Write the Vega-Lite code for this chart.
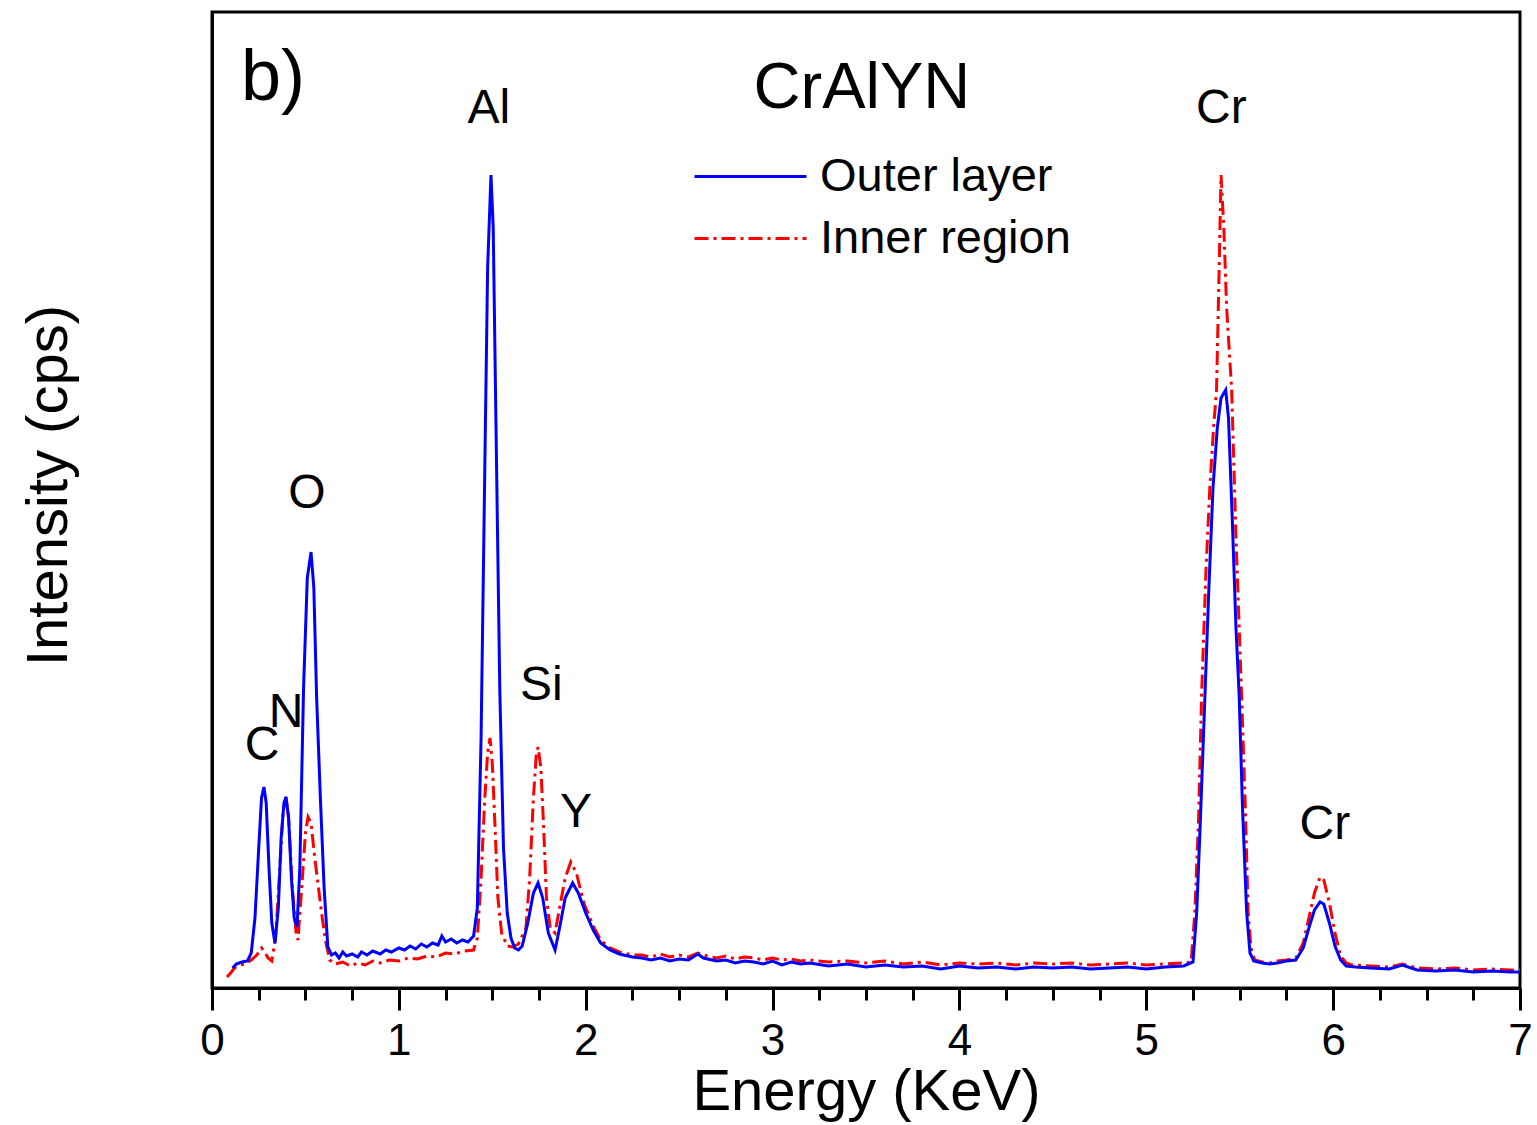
{
  "$schema": "https://vega.github.io/schema/vega-lite/v6.json",
  "width": 1308,
  "height": 976,
  "autosize": {"type": "none"},
  "padding": {"left": 212, "top": 12, "right": 17, "bottom": 137},
  "background": "white",
  "config": {
    "view": {"stroke": "black", "strokeWidth": 3},
    "font": "Liberation Sans",
    "axis": {"grid": false}
  },
  "datasets": {
    "spectra": [
      {"series": "Inner region", "energy": 0.08, "intensity": 11},
      {"series": "Inner region", "energy": 0.10, "intensity": 15},
      {"series": "Inner region", "energy": 0.12, "intensity": 20},
      {"series": "Inner region", "energy": 0.15, "intensity": 23},
      {"series": "Inner region", "energy": 0.18, "intensity": 24},
      {"series": "Inner region", "energy": 0.21, "intensity": 28},
      {"series": "Inner region", "energy": 0.24, "intensity": 33},
      {"series": "Inner region", "energy": 0.265, "intensity": 40},
      {"series": "Inner region", "energy": 0.28, "intensity": 37},
      {"series": "Inner region", "energy": 0.30, "intensity": 30},
      {"series": "Inner region", "energy": 0.32, "intensity": 27},
      {"series": "Inner region", "energy": 0.34, "intensity": 50},
      {"series": "Inner region", "energy": 0.36, "intensity": 110},
      {"series": "Inner region", "energy": 0.38, "intensity": 175},
      {"series": "Inner region", "energy": 0.396, "intensity": 191},
      {"series": "Inner region", "energy": 0.41, "intensity": 170},
      {"series": "Inner region", "energy": 0.43, "intensity": 100},
      {"series": "Inner region", "energy": 0.45, "intensity": 55},
      {"series": "Inner region", "energy": 0.46, "intensity": 48},
      {"series": "Inner region", "energy": 0.48, "intensity": 100},
      {"series": "Inner region", "energy": 0.50, "intensity": 155},
      {"series": "Inner region", "energy": 0.514, "intensity": 171},
      {"series": "Inner region", "energy": 0.53, "intensity": 165},
      {"series": "Inner region", "energy": 0.55, "intensity": 130},
      {"series": "Inner region", "energy": 0.57, "intensity": 100},
      {"series": "Inner region", "energy": 0.59, "intensity": 70},
      {"series": "Inner region", "energy": 0.61, "intensity": 45},
      {"series": "Inner region", "energy": 0.63, "intensity": 28},
      {"series": "Inner region", "energy": 0.66, "intensity": 24},
      {"series": "Inner region", "energy": 0.70, "intensity": 26},
      {"series": "Inner region", "energy": 0.74, "intensity": 22},
      {"series": "Inner region", "energy": 0.78, "intensity": 25},
      {"series": "Inner region", "energy": 0.82, "intensity": 23},
      {"series": "Inner region", "energy": 0.86, "intensity": 27},
      {"series": "Inner region", "energy": 0.90, "intensity": 25},
      {"series": "Inner region", "energy": 0.95, "intensity": 28},
      {"series": "Inner region", "energy": 1.00, "intensity": 27},
      {"series": "Inner region", "energy": 1.05, "intensity": 30},
      {"series": "Inner region", "energy": 1.10, "intensity": 29},
      {"series": "Inner region", "energy": 1.15, "intensity": 32},
      {"series": "Inner region", "energy": 1.20, "intensity": 31},
      {"series": "Inner region", "energy": 1.25, "intensity": 35},
      {"series": "Inner region", "energy": 1.30, "intensity": 34},
      {"series": "Inner region", "energy": 1.35, "intensity": 37},
      {"series": "Inner region", "energy": 1.40, "intensity": 38},
      {"series": "Inner region", "energy": 1.42, "intensity": 50},
      {"series": "Inner region", "energy": 1.44, "intensity": 110},
      {"series": "Inner region", "energy": 1.46, "intensity": 190},
      {"series": "Inner region", "energy": 1.475, "intensity": 235},
      {"series": "Inner region", "energy": 1.488, "intensity": 250},
      {"series": "Inner region", "energy": 1.50, "intensity": 225},
      {"series": "Inner region", "energy": 1.515, "intensity": 160},
      {"series": "Inner region", "energy": 1.53, "intensity": 90},
      {"series": "Inner region", "energy": 1.55, "intensity": 55},
      {"series": "Inner region", "energy": 1.58, "intensity": 42},
      {"series": "Inner region", "energy": 1.61, "intensity": 41},
      {"series": "Inner region", "energy": 1.64, "intensity": 44},
      {"series": "Inner region", "energy": 1.68, "intensity": 60},
      {"series": "Inner region", "energy": 1.70, "intensity": 110},
      {"series": "Inner region", "energy": 1.72, "intensity": 190},
      {"series": "Inner region", "energy": 1.735, "intensity": 232},
      {"series": "Inner region", "energy": 1.745, "intensity": 241},
      {"series": "Inner region", "energy": 1.76, "intensity": 220},
      {"series": "Inner region", "energy": 1.775, "intensity": 160},
      {"series": "Inner region", "energy": 1.79, "intensity": 90},
      {"series": "Inner region", "energy": 1.81, "intensity": 60},
      {"series": "Inner region", "energy": 1.836, "intensity": 55},
      {"series": "Inner region", "energy": 1.86, "intensity": 80},
      {"series": "Inner region", "energy": 1.89, "intensity": 110},
      {"series": "Inner region", "energy": 1.92, "intensity": 126},
      {"series": "Inner region", "energy": 1.95, "intensity": 115},
      {"series": "Inner region", "energy": 1.99, "intensity": 85},
      {"series": "Inner region", "energy": 2.04, "intensity": 62},
      {"series": "Inner region", "energy": 2.08, "intensity": 48},
      {"series": "Inner region", "energy": 2.13, "intensity": 40},
      {"series": "Inner region", "energy": 2.18, "intensity": 36},
      {"series": "Inner region", "energy": 2.25, "intensity": 33},
      {"series": "Inner region", "energy": 2.30, "intensity": 33},
      {"series": "Inner region", "energy": 2.35, "intensity": 31},
      {"series": "Inner region", "energy": 2.40, "intensity": 34},
      {"series": "Inner region", "energy": 2.45, "intensity": 31},
      {"series": "Inner region", "energy": 2.50, "intensity": 33},
      {"series": "Inner region", "energy": 2.55, "intensity": 31},
      {"series": "Inner region", "energy": 2.60, "intensity": 35},
      {"series": "Inner region", "energy": 2.65, "intensity": 32},
      {"series": "Inner region", "energy": 2.70, "intensity": 30},
      {"series": "Inner region", "energy": 2.75, "intensity": 32},
      {"series": "Inner region", "energy": 2.80, "intensity": 29},
      {"series": "Inner region", "energy": 2.85, "intensity": 31},
      {"series": "Inner region", "energy": 2.90, "intensity": 30},
      {"series": "Inner region", "energy": 2.95, "intensity": 28},
      {"series": "Inner region", "energy": 3.00, "intensity": 30},
      {"series": "Inner region", "energy": 3.05, "intensity": 28},
      {"series": "Inner region", "energy": 3.10, "intensity": 29},
      {"series": "Inner region", "energy": 3.15, "intensity": 27},
      {"series": "Inner region", "energy": 3.20, "intensity": 28},
      {"series": "Inner region", "energy": 3.30, "intensity": 26},
      {"series": "Inner region", "energy": 3.40, "intensity": 27},
      {"series": "Inner region", "energy": 3.50, "intensity": 25},
      {"series": "Inner region", "energy": 3.60, "intensity": 27},
      {"series": "Inner region", "energy": 3.70, "intensity": 24},
      {"series": "Inner region", "energy": 3.80, "intensity": 26},
      {"series": "Inner region", "energy": 3.90, "intensity": 23},
      {"series": "Inner region", "energy": 4.00, "intensity": 25},
      {"series": "Inner region", "energy": 4.10, "intensity": 24},
      {"series": "Inner region", "energy": 4.20, "intensity": 25},
      {"series": "Inner region", "energy": 4.30, "intensity": 23},
      {"series": "Inner region", "energy": 4.40, "intensity": 25},
      {"series": "Inner region", "energy": 4.50, "intensity": 24},
      {"series": "Inner region", "energy": 4.60, "intensity": 25},
      {"series": "Inner region", "energy": 4.70, "intensity": 23},
      {"series": "Inner region", "energy": 4.80, "intensity": 24},
      {"series": "Inner region", "energy": 4.90, "intensity": 25},
      {"series": "Inner region", "energy": 5.00, "intensity": 23},
      {"series": "Inner region", "energy": 5.10, "intensity": 24},
      {"series": "Inner region", "energy": 5.20, "intensity": 25},
      {"series": "Inner region", "energy": 5.24, "intensity": 26},
      {"series": "Inner region", "energy": 5.26, "intensity": 76},
      {"series": "Inner region", "energy": 5.28, "intensity": 170},
      {"series": "Inner region", "energy": 5.296, "intensity": 293},
      {"series": "Inner region", "energy": 5.32, "intensity": 420},
      {"series": "Inner region", "energy": 5.34, "intensity": 500},
      {"series": "Inner region", "energy": 5.36, "intensity": 560},
      {"series": "Inner region", "energy": 5.376, "intensity": 598},
      {"series": "Inner region", "energy": 5.39, "intensity": 720},
      {"series": "Inner region", "energy": 5.40, "intensity": 813},
      {"series": "Inner region", "energy": 5.415, "intensity": 760},
      {"series": "Inner region", "energy": 5.43, "intensity": 680},
      {"series": "Inner region", "energy": 5.457, "intensity": 598},
      {"series": "Inner region", "energy": 5.48, "intensity": 450},
      {"series": "Inner region", "energy": 5.51, "intensity": 293},
      {"series": "Inner region", "energy": 5.53, "intensity": 180},
      {"series": "Inner region", "energy": 5.545, "intensity": 76},
      {"series": "Inner region", "energy": 5.56, "intensity": 40},
      {"series": "Inner region", "energy": 5.58, "intensity": 28},
      {"series": "Inner region", "energy": 5.62, "intensity": 26},
      {"series": "Inner region", "energy": 5.66, "intensity": 25},
      {"series": "Inner region", "energy": 5.70, "intensity": 27},
      {"series": "Inner region", "energy": 5.75, "intensity": 28},
      {"series": "Inner region", "energy": 5.80, "intensity": 30},
      {"series": "Inner region", "energy": 5.84, "intensity": 45},
      {"series": "Inner region", "energy": 5.87, "intensity": 70},
      {"series": "Inner region", "energy": 5.90, "intensity": 95},
      {"series": "Inner region", "energy": 5.93, "intensity": 111},
      {"series": "Inner region", "energy": 5.95, "intensity": 108},
      {"series": "Inner region", "energy": 5.98, "intensity": 85},
      {"series": "Inner region", "energy": 6.01, "intensity": 55},
      {"series": "Inner region", "energy": 6.04, "intensity": 32},
      {"series": "Inner region", "energy": 6.07, "intensity": 25},
      {"series": "Inner region", "energy": 6.10, "intensity": 23},
      {"series": "Inner region", "energy": 6.20, "intensity": 22},
      {"series": "Inner region", "energy": 6.30, "intensity": 21},
      {"series": "Inner region", "energy": 6.37, "intensity": 24},
      {"series": "Inner region", "energy": 6.45, "intensity": 20},
      {"series": "Inner region", "energy": 6.55, "intensity": 19},
      {"series": "Inner region", "energy": 6.65, "intensity": 20},
      {"series": "Inner region", "energy": 6.75, "intensity": 18},
      {"series": "Inner region", "energy": 6.85, "intensity": 19},
      {"series": "Inner region", "energy": 6.95, "intensity": 18},
      {"series": "Inner region", "energy": 7.00, "intensity": 18},
      {"series": "Outer layer", "energy": 0.11, "intensity": 20},
      {"series": "Outer layer", "energy": 0.13, "intensity": 24},
      {"series": "Outer layer", "energy": 0.16, "intensity": 26},
      {"series": "Outer layer", "energy": 0.19, "intensity": 27},
      {"series": "Outer layer", "energy": 0.21, "intensity": 35},
      {"series": "Outer layer", "energy": 0.23, "intensity": 70},
      {"series": "Outer layer", "energy": 0.25, "intensity": 140},
      {"series": "Outer layer", "energy": 0.265, "intensity": 190},
      {"series": "Outer layer", "energy": 0.278, "intensity": 201},
      {"series": "Outer layer", "energy": 0.29, "intensity": 185},
      {"series": "Outer layer", "energy": 0.305, "intensity": 120},
      {"series": "Outer layer", "energy": 0.32, "intensity": 65},
      {"series": "Outer layer", "energy": 0.337, "intensity": 45},
      {"series": "Outer layer", "energy": 0.355, "intensity": 80},
      {"series": "Outer layer", "energy": 0.37, "intensity": 150},
      {"series": "Outer layer", "energy": 0.385, "intensity": 185},
      {"series": "Outer layer", "energy": 0.396, "intensity": 191},
      {"series": "Outer layer", "energy": 0.41, "intensity": 170},
      {"series": "Outer layer", "energy": 0.425, "intensity": 110},
      {"series": "Outer layer", "energy": 0.44, "intensity": 70},
      {"series": "Outer layer", "energy": 0.455, "intensity": 61},
      {"series": "Outer layer", "energy": 0.47, "intensity": 120},
      {"series": "Outer layer", "energy": 0.49, "intensity": 300},
      {"series": "Outer layer", "energy": 0.51, "intensity": 410},
      {"series": "Outer layer", "energy": 0.53, "intensity": 436},
      {"series": "Outer layer", "energy": 0.545, "intensity": 400},
      {"series": "Outer layer", "energy": 0.56, "intensity": 290},
      {"series": "Outer layer", "energy": 0.58, "intensity": 190},
      {"series": "Outer layer", "energy": 0.60, "intensity": 100},
      {"series": "Outer layer", "energy": 0.62, "intensity": 41},
      {"series": "Outer layer", "energy": 0.64, "intensity": 33},
      {"series": "Outer layer", "energy": 0.66, "intensity": 35},
      {"series": "Outer layer", "energy": 0.68, "intensity": 30},
      {"series": "Outer layer", "energy": 0.70, "intensity": 36},
      {"series": "Outer layer", "energy": 0.72, "intensity": 32},
      {"series": "Outer layer", "energy": 0.75, "intensity": 34},
      {"series": "Outer layer", "energy": 0.78, "intensity": 31},
      {"series": "Outer layer", "energy": 0.80, "intensity": 36},
      {"series": "Outer layer", "energy": 0.83, "intensity": 33},
      {"series": "Outer layer", "energy": 0.86, "intensity": 37},
      {"series": "Outer layer", "energy": 0.90, "intensity": 34},
      {"series": "Outer layer", "energy": 0.93, "intensity": 38},
      {"series": "Outer layer", "energy": 0.96, "intensity": 36},
      {"series": "Outer layer", "energy": 1.00, "intensity": 40},
      {"series": "Outer layer", "energy": 1.03, "intensity": 38},
      {"series": "Outer layer", "energy": 1.06, "intensity": 42},
      {"series": "Outer layer", "energy": 1.09, "intensity": 39},
      {"series": "Outer layer", "energy": 1.12, "intensity": 44},
      {"series": "Outer layer", "energy": 1.15, "intensity": 41},
      {"series": "Outer layer", "energy": 1.18, "intensity": 45},
      {"series": "Outer layer", "energy": 1.21, "intensity": 43},
      {"series": "Outer layer", "energy": 1.23, "intensity": 52},
      {"series": "Outer layer", "energy": 1.25, "intensity": 46},
      {"series": "Outer layer", "energy": 1.28, "intensity": 49},
      {"series": "Outer layer", "energy": 1.31, "intensity": 45},
      {"series": "Outer layer", "energy": 1.34, "intensity": 48},
      {"series": "Outer layer", "energy": 1.37, "intensity": 46},
      {"series": "Outer layer", "energy": 1.40, "intensity": 52},
      {"series": "Outer layer", "energy": 1.42, "intensity": 80},
      {"series": "Outer layer", "energy": 1.44, "intensity": 250},
      {"series": "Outer layer", "energy": 1.46, "intensity": 520},
      {"series": "Outer layer", "energy": 1.475, "intensity": 720},
      {"series": "Outer layer", "energy": 1.493, "intensity": 813},
      {"series": "Outer layer", "energy": 1.505, "intensity": 760},
      {"series": "Outer layer", "energy": 1.52, "intensity": 560},
      {"series": "Outer layer", "energy": 1.54, "intensity": 300},
      {"series": "Outer layer", "energy": 1.56, "intensity": 140},
      {"series": "Outer layer", "energy": 1.58, "intensity": 75},
      {"series": "Outer layer", "energy": 1.60, "intensity": 50},
      {"series": "Outer layer", "energy": 1.62, "intensity": 40},
      {"series": "Outer layer", "energy": 1.64, "intensity": 38},
      {"series": "Outer layer", "energy": 1.66, "intensity": 42},
      {"series": "Outer layer", "energy": 1.69, "intensity": 65},
      {"series": "Outer layer", "energy": 1.72, "intensity": 95},
      {"series": "Outer layer", "energy": 1.745, "intensity": 105},
      {"series": "Outer layer", "energy": 1.77, "intensity": 90},
      {"series": "Outer layer", "energy": 1.80, "intensity": 55},
      {"series": "Outer layer", "energy": 1.836, "intensity": 38},
      {"series": "Outer layer", "energy": 1.86, "intensity": 60},
      {"series": "Outer layer", "energy": 1.89, "intensity": 90},
      {"series": "Outer layer", "energy": 1.93, "intensity": 105},
      {"series": "Outer layer", "energy": 1.96, "intensity": 95},
      {"series": "Outer layer", "energy": 2.00, "intensity": 75},
      {"series": "Outer layer", "energy": 2.04, "intensity": 58},
      {"series": "Outer layer", "energy": 2.08, "intensity": 45},
      {"series": "Outer layer", "energy": 2.13, "intensity": 38},
      {"series": "Outer layer", "energy": 2.18, "intensity": 34},
      {"series": "Outer layer", "energy": 2.25, "intensity": 31},
      {"series": "Outer layer", "energy": 2.30, "intensity": 30},
      {"series": "Outer layer", "energy": 2.35, "intensity": 28},
      {"series": "Outer layer", "energy": 2.40, "intensity": 30},
      {"series": "Outer layer", "energy": 2.45, "intensity": 27},
      {"series": "Outer layer", "energy": 2.50, "intensity": 29},
      {"series": "Outer layer", "energy": 2.55, "intensity": 28},
      {"series": "Outer layer", "energy": 2.60, "intensity": 34},
      {"series": "Outer layer", "energy": 2.63, "intensity": 30},
      {"series": "Outer layer", "energy": 2.70, "intensity": 27},
      {"series": "Outer layer", "energy": 2.75, "intensity": 28},
      {"series": "Outer layer", "energy": 2.80, "intensity": 25},
      {"series": "Outer layer", "energy": 2.85, "intensity": 27},
      {"series": "Outer layer", "energy": 2.90, "intensity": 26},
      {"series": "Outer layer", "energy": 2.95, "intensity": 24},
      {"series": "Outer layer", "energy": 3.00, "intensity": 27},
      {"series": "Outer layer", "energy": 3.05, "intensity": 23},
      {"series": "Outer layer", "energy": 3.10, "intensity": 26},
      {"series": "Outer layer", "energy": 3.15, "intensity": 24},
      {"series": "Outer layer", "energy": 3.20, "intensity": 25},
      {"series": "Outer layer", "energy": 3.30, "intensity": 22},
      {"series": "Outer layer", "energy": 3.40, "intensity": 24},
      {"series": "Outer layer", "energy": 3.50, "intensity": 21},
      {"series": "Outer layer", "energy": 3.60, "intensity": 23},
      {"series": "Outer layer", "energy": 3.70, "intensity": 21},
      {"series": "Outer layer", "energy": 3.80, "intensity": 22},
      {"series": "Outer layer", "energy": 3.90, "intensity": 19},
      {"series": "Outer layer", "energy": 4.00, "intensity": 22},
      {"series": "Outer layer", "energy": 4.10, "intensity": 20},
      {"series": "Outer layer", "energy": 4.20, "intensity": 21},
      {"series": "Outer layer", "energy": 4.30, "intensity": 19},
      {"series": "Outer layer", "energy": 4.40, "intensity": 21},
      {"series": "Outer layer", "energy": 4.50, "intensity": 20},
      {"series": "Outer layer", "energy": 4.60, "intensity": 21},
      {"series": "Outer layer", "energy": 4.70, "intensity": 19},
      {"series": "Outer layer", "energy": 4.80, "intensity": 20},
      {"series": "Outer layer", "energy": 4.90, "intensity": 21},
      {"series": "Outer layer", "energy": 5.00, "intensity": 19},
      {"series": "Outer layer", "energy": 5.10, "intensity": 21},
      {"series": "Outer layer", "energy": 5.20, "intensity": 22},
      {"series": "Outer layer", "energy": 5.25, "intensity": 26},
      {"series": "Outer layer", "energy": 5.27, "intensity": 76},
      {"series": "Outer layer", "energy": 5.29, "intensity": 170},
      {"series": "Outer layer", "energy": 5.314, "intensity": 293},
      {"series": "Outer layer", "energy": 5.335, "intensity": 400},
      {"series": "Outer layer", "energy": 5.357, "intensity": 500},
      {"series": "Outer layer", "energy": 5.38, "intensity": 560},
      {"series": "Outer layer", "energy": 5.40, "intensity": 590},
      {"series": "Outer layer", "energy": 5.425, "intensity": 598},
      {"series": "Outer layer", "energy": 5.44, "intensity": 570},
      {"series": "Outer layer", "energy": 5.46, "intensity": 470},
      {"series": "Outer layer", "energy": 5.48, "intensity": 360},
      {"series": "Outer layer", "energy": 5.497, "intensity": 293},
      {"series": "Outer layer", "energy": 5.515, "intensity": 180},
      {"series": "Outer layer", "energy": 5.537, "intensity": 76},
      {"series": "Outer layer", "energy": 5.555, "intensity": 35},
      {"series": "Outer layer", "energy": 5.575, "intensity": 27},
      {"series": "Outer layer", "energy": 5.62, "intensity": 25},
      {"series": "Outer layer", "energy": 5.66, "intensity": 24},
      {"series": "Outer layer", "energy": 5.70, "intensity": 25},
      {"series": "Outer layer", "energy": 5.75, "intensity": 27},
      {"series": "Outer layer", "energy": 5.80, "intensity": 28},
      {"series": "Outer layer", "energy": 5.84, "intensity": 40},
      {"series": "Outer layer", "energy": 5.87, "intensity": 60},
      {"series": "Outer layer", "energy": 5.90, "intensity": 78},
      {"series": "Outer layer", "energy": 5.93, "intensity": 86},
      {"series": "Outer layer", "energy": 5.95, "intensity": 84},
      {"series": "Outer layer", "energy": 5.98, "intensity": 65},
      {"series": "Outer layer", "energy": 6.01, "intensity": 42},
      {"series": "Outer layer", "energy": 6.04, "intensity": 28},
      {"series": "Outer layer", "energy": 6.07, "intensity": 22},
      {"series": "Outer layer", "energy": 6.12, "intensity": 21},
      {"series": "Outer layer", "energy": 6.20, "intensity": 20},
      {"series": "Outer layer", "energy": 6.30, "intensity": 19},
      {"series": "Outer layer", "energy": 6.37, "intensity": 23},
      {"series": "Outer layer", "energy": 6.45, "intensity": 18},
      {"series": "Outer layer", "energy": 6.55, "intensity": 17},
      {"series": "Outer layer", "energy": 6.65, "intensity": 18},
      {"series": "Outer layer", "energy": 6.75, "intensity": 16},
      {"series": "Outer layer", "energy": 6.85, "intensity": 17},
      {"series": "Outer layer", "energy": 6.95, "intensity": 16},
      {"series": "Outer layer", "energy": 7.00, "intensity": 16}
    ],
    "elements": [
      {"label": "C", "energy": 0.268, "intensity": 228},
      {"label": "N", "energy": 0.396, "intensity": 261},
      {"label": "O", "energy": 0.508, "intensity": 480},
      {"label": "Al", "energy": 1.482, "intensity": 865},
      {"label": "Si", "energy": 1.763, "intensity": 288},
      {"label": "Y", "energy": 1.948, "intensity": 161},
      {"label": "Cr", "energy": 5.402, "intensity": 865},
      {"label": "Cr", "energy": 5.956, "intensity": 149}
    ],
    "panel": [{"label": "b)", "energy": 0.155, "intensity": 888}],
    "sample": [{"label": "CrAlYN", "energy": 3.478, "intensity": 880}]
  },
  "layer": [
    {
      "data": {"name": "spectra"},
      "transform": [{"filter": {"field": "series", "equal": "Inner region"}}],
      "mark": {"type": "line", "strokeWidth": 3, "color": "#ff0000"},
      "encoding": {
        "x": {
          "field": "energy", "type": "quantitative",
          "scale": {"domain": [0, 7], "nice": false, "zero": false},
          "axis": {
            "orient": "bottom",
            "values": [0, 1, 2, 3, 4, 5, 6, 7],
            "format": "d",
            "title": "Energy (KeV)",
            "titleFont": "Liberation Sans", "titleFontSize": 58, "titleFontWeight": "normal", "titleColor": "black",
            "titlePadding": 0,
            "labelFont": "Liberation Sans", "labelFontSize": 44, "labelColor": "black", "labelPadding": 9,
            "labelFlush": false,
            "tickSize": 22, "tickWidth": 3, "tickColor": "black",
            "domainColor": "black", "domainWidth": 3, "grid": false
          }
        },
        "y": {
          "field": "intensity", "type": "quantitative",
          "scale": {"domain": [0, 976], "nice": false},
          "axis": {
            "title": "Intensity (cps)",
            "titleFont": "Liberation Sans", "titleFontSize": 58, "titleFontWeight": "normal", "titleColor": "black",
            "labels": false, "ticks": false, "domain": true, "domainColor": "black", "domainWidth": 3, "grid": false,
            "titlePadding": 134, "titleY": 473
          }
        },
        "strokeDash": {
          "field": "series", "type": "nominal",
          "scale": {"domain": ["Inner region"], "range": [[14, 5, 3, 5]]},
          "legend": {
            "title": null, "orient": "none", "legendX": 481, "legendY": 169,
            "symbolType": "stroke", "symbolSize": 12544, "symbolStrokeWidth": 3, "symbolStrokeColor": "#ff0000",
            "labelFont": "Liberation Sans", "labelFontSize": 47, "labelColor": "black", "labelLimit": 0,
            "labelOffset": 12, "padding": 0
          }
        }
      }
    },
    {
      "data": {"name": "spectra"},
      "transform": [{"filter": {"field": "series", "equal": "Outer layer"}}],
      "mark": {"type": "line", "strokeWidth": 3},
      "encoding": {
        "x": {"field": "energy", "type": "quantitative", "axis": null},
        "y": {"field": "intensity", "type": "quantitative"},
        "color": {
          "field": "series", "type": "nominal",
          "scale": {"domain": ["Outer layer"], "range": ["#0000ff"]},
          "legend": {
            "title": null, "orient": "none", "legendX": 481, "legendY": 107,
            "symbolType": "stroke", "symbolSize": 12544, "symbolStrokeWidth": 3,
            "labelFont": "Liberation Sans", "labelFontSize": 47, "labelColor": "black", "labelLimit": 0,
            "labelOffset": 12, "padding": 0
          }
        }
      }
    },
    {
      "data": {"name": "elements"},
      "mark": {"type": "text", "font": "Liberation Sans", "fontSize": 48, "color": "black", "align": "center", "baseline": "alphabetic"},
      "encoding": {
        "x": {
          "field": "energy", "type": "quantitative",
          "axis": {
            "orient": "bottom",
            "values": [0.25, 0.5, 0.75, 1.25, 1.5, 1.75, 2.25, 2.5, 2.75, 3.25, 3.5, 3.75, 4.25, 4.5, 4.75, 5.25, 5.5, 5.75, 6.25, 6.5, 6.75],
            "labels": false, "title": null, "domain": false, "grid": false,
            "tickSize": 12, "tickWidth": 3, "tickColor": "black"
          }
        },
        "y": {"field": "intensity", "type": "quantitative"},
        "text": {"field": "label"}
      }
    },
    {
      "data": {"name": "panel"},
      "mark": {"type": "text", "font": "Liberation Sans", "fontSize": 72, "color": "black", "align": "left", "baseline": "alphabetic"},
      "encoding": {
        "x": {"field": "energy", "type": "quantitative", "axis": null},
        "y": {"field": "intensity", "type": "quantitative"},
        "text": {"field": "label"}
      }
    },
    {
      "data": {"name": "sample"},
      "mark": {"type": "text", "font": "Liberation Sans", "fontSize": 65, "color": "black", "align": "center", "baseline": "alphabetic"},
      "encoding": {
        "x": {"field": "energy", "type": "quantitative", "axis": null},
        "y": {"field": "intensity", "type": "quantitative"},
        "text": {"field": "label"}
      }
    }
  ],
  "resolve": {"axis": {"x": "independent"}}
}
